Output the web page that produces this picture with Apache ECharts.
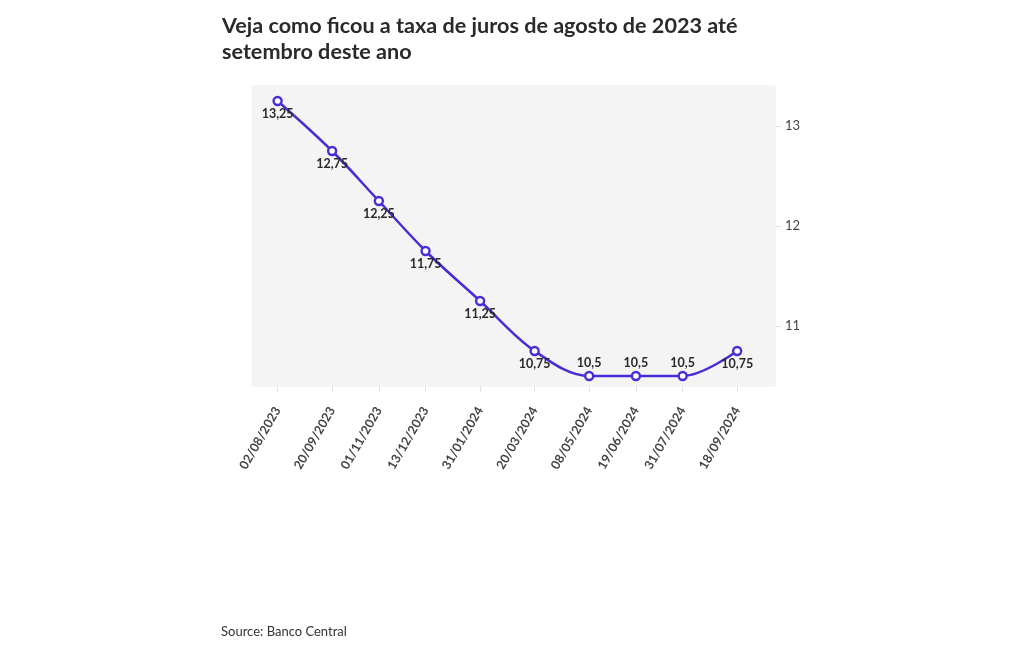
<!DOCTYPE html>
<html>
<head>
<meta charset="utf-8">
<script src="https://cdn.jsdelivr.net/npm/echarts@6/dist/echarts.min.js"></script>
<style>html,body{margin:0;padding:0;background:#fff}#c{width:1020px;height:650px}</style>
</head>
<body>
<div id="c"></div>
<script>
const dates = ['2023-08-02','2023-09-20','2023-11-01','2023-12-13','2024-01-31','2024-03-20','2024-05-08','2024-06-19','2024-07-31','2024-09-18'];
const rates = [13.25,12.75,12.25,11.75,11.25,10.75,10.5,10.5,10.5,10.75];
const yTicks = [11,12,13];
const titleText = 'Veja como ficou a taxa de juros de agosto de 2023 até\nsetembro deste ano';
const sourceText = 'Source: Banco Central';

function ts(s){const p=s.split('-').map(Number);return Date.UTC(p[0],p[1]-1,p[2]);}
const times = dates.map(ts);
const DAY = 86400000;
function fmt(v){const d=new Date(v);const dd=String(d.getUTCDate()).padStart(2,'0');const mm=String(d.getUTCMonth()+1).padStart(2,'0');return dd+'/'+mm+'/'+d.getUTCFullYear();}
const FONT = 'Lato, "Noto Sans", sans-serif';
const minRate = Math.min(...rates);

const chart = echarts.init(document.getElementById('c'));
chart.setOption({
  animation:false,
  textStyle:{fontFamily:FONT},
  title:{text:titleText,left:217,top:8,textStyle:{fontFamily:FONT,fontSize:21.6,fontWeight:'bold',color:'#2a2a2a',lineHeight:26}},
  graphic:[{type:'text',left:221,top:625,style:{text:sourceText,font:'13px '+FONT,fill:'#333'}}],
  grid:{left:252,top:86,width:523,height:300,show:true,backgroundColor:'#f4f4f4',borderWidth:1,borderColor:'#f0f0f0'},
  xAxis:{type:'value',min:times[0]-23*DAY,max:times[times.length-1]+34*DAY,
    splitLine:{show:false},axisLine:{show:false},
    axisTick:{show:true,length:6,lineStyle:{color:'#e2e2e2'},customValues:times},
    axisLabel:{customValues:times,rotate:60,margin:22,fontSize:12.5,fontWeight:'bold',color:'#444',fontFamily:FONT,formatter:fmt}},
  yAxis:{type:'value',position:'right',min:10.4,max:13.4,
    splitLine:{show:false},axisLine:{show:false},
    axisTick:{show:true,length:6,lineStyle:{color:'#e2e2e2'},customValues:yTicks},
    axisLabel:{customValues:yTicks,margin:10,fontSize:13,color:'#444',fontFamily:FONT}},
  series:[{type:'line',smooth:0.35,
    data:times.map((t,i)=>({value:[t,rates[i]],label:{position:rates[i]===minRate?'top':'bottom'}})),
    lineStyle:{color:'#4b2bd8',width:2.5},
    symbol:'circle',symbolSize:8,itemStyle:{color:'#fff',borderColor:'#4b2bd8',borderWidth:2.4},
    label:{show:true,distance:1,fontSize:12.5,fontWeight:'bold',color:'#2a2a2a',fontFamily:FONT,
      formatter:p=>String(p.value[1]).replace('.',',')}}]
});
</script>
</body>
</html>
